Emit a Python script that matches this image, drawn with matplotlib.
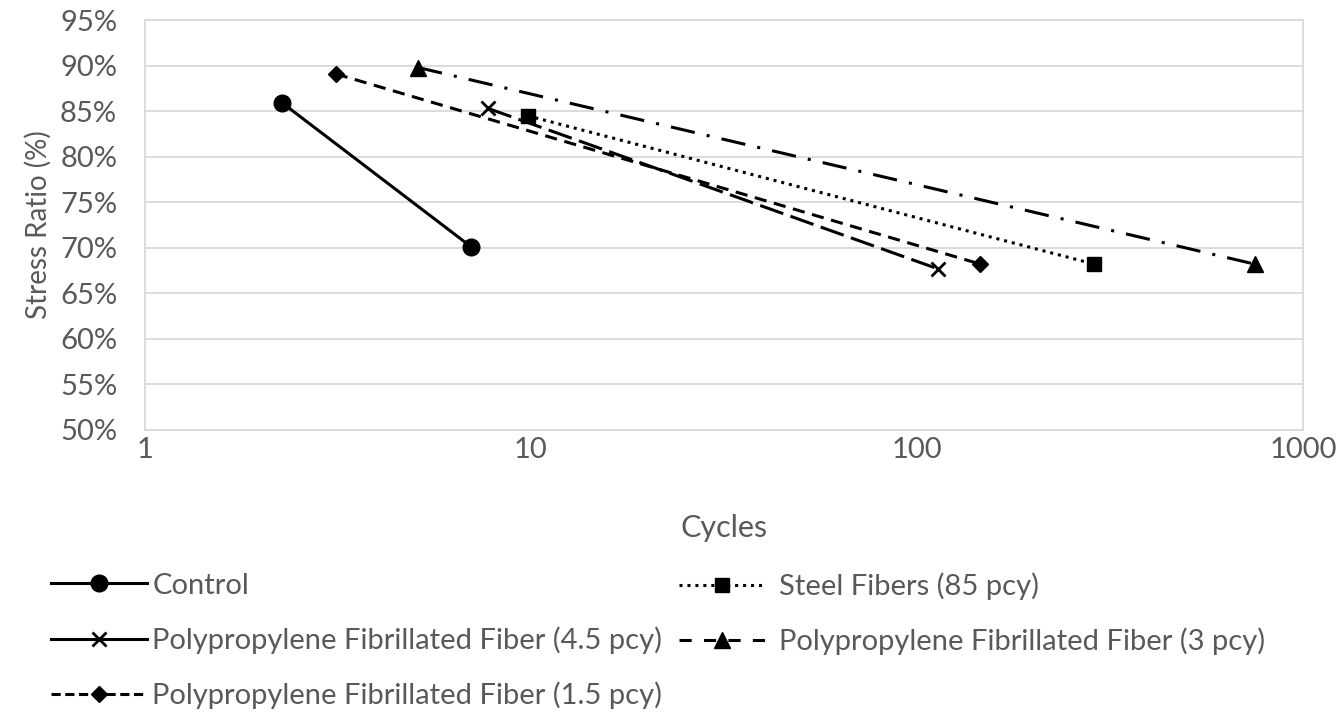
"""S-N style fatigue plot: stress ratio vs. cycles for fiber mixes."""

import matplotlib.pyplot as plt
from matplotlib.lines import Line2D
from matplotlib.ticker import FixedLocator, FuncFormatter, NullLocator

plt.rcParams["font.family"] = ["Lato", "DejaVu Sans"]

# series values (cycles, stress ratio %)
control_cycles = [2.27, 7.0]
control_ratio = [85.9, 70.1]
steel_cycles = [9.8, 288]
steel_ratio = [84.5, 68.2]
pp45_cycles = [7.75, 113]
pp45_ratio = [85.3, 67.7]
pp3_cycles = [5.1, 750]
pp3_ratio = [89.8, 68.2]
pp15_cycles = [3.12, 146]
pp15_ratio = [89.1, 68.2]

labels = [
    "Control",
    "Polypropylene Fibrillated Fiber (4.5 pcy)",
    "Polypropylene Fibrillated Fiber (1.5 pcy)",
    "Steel Fibers (85 pcy)",
    "Polypropylene Fibrillated Fiber (3 pcy)",
]
x_ticks = [1, 10, 100, 1000]
y_ticks = list(range(50, 96, 5))

TEXT = "#595959"
GRID = "#d9d9d9"

fig = plt.figure(figsize=(13.42, 7.2), dpi=100)
ax = fig.add_axes([0.108, 0.403, 0.863, 0.569])

lw = 2.2
ax.plot(control_cycles, control_ratio, color="black", lw=lw, ls="-",
        marker="o", ms=12, zorder=3)
ax.plot(steel_cycles, steel_ratio, color="black", lw=lw, ls=(0, (1, 1.6)),
        marker="s", ms=10.5, zorder=3)
ax.plot(pp45_cycles, pp45_ratio, color="black", lw=lw, ls=(0, (8, 2.5)),
        marker="x", ms=10, mew=2, zorder=3)
ax.plot(pp3_cycles, pp3_ratio, color="black", lw=lw, ls=(0, (8, 4, 1, 4)),
        marker="^", ms=11, zorder=3)
ax.plot(pp15_cycles, pp15_ratio, color="black", lw=lw, ls=(0, (4, 2.5)),
        marker="D", ms=8.5, zorder=3)

ax.set_xscale("log")
ax.set_xlim(1, 1000)
ax.set_ylim(50, 95)
ax.xaxis.set_major_locator(FixedLocator(x_ticks))
ax.xaxis.set_minor_locator(NullLocator())
ax.xaxis.set_major_formatter(FuncFormatter(lambda v, p: f"{v:g}"))
ax.set_yticks(y_ticks)
ax.yaxis.set_major_formatter(FuncFormatter(lambda v, p: f"{v:.0f}%"))

ax.grid(axis="y", color=GRID, lw=1.3)
ax.set_axisbelow(True)
for s in ax.spines.values():
    s.set_color(GRID)
    s.set_linewidth(1.3)
ax.tick_params(length=0, labelsize=21, colors=TEXT)
ax.tick_params(axis="y", pad=20)
ax.tick_params(axis="x", pad=5)

ax.set_xlabel("Cycles", fontsize=22, color=TEXT, labelpad=37)
ax.set_ylabel("Stress Ratio (%)", fontsize=20, color=TEXT, labelpad=6)

h_control = Line2D([], [], color="black", lw=lw, ls="-", marker="o", ms=12)
h_pp45 = Line2D([], [], color="black", lw=lw, ls="-", marker="x", ms=10, mew=2)
h_pp15 = Line2D([], [], color="black", lw=lw, ls=(0, (3, 1.5)), marker="D", ms=8.5)
h_steel = Line2D([], [], color="black", lw=lw, ls=(0, (1, 1.6)), marker="s", ms=10.5)
h_pp3 = Line2D([], [], color="black", lw=lw, ls=(0, (4, 4)), marker="^", ms=11)

leg_kw = dict(loc="upper left", frameon=False, fontsize=21, labelspacing=0.95,
              borderaxespad=0)
leg1 = fig.legend([h_control, h_pp45, h_pp15], labels[:3],
                  bbox_to_anchor=(0.0294, 0.221), handlelength=3.3,
                  handletextpad=0.17, **leg_kw)
leg2 = fig.legend([h_steel, h_pp3], labels[3:],
                  bbox_to_anchor=(0.497, 0.221), handlelength=3.0,
                  handletextpad=0.45, **leg_kw)
for leg in (leg1, leg2):
    for t in leg.get_texts():
        t.set_color(TEXT)

fig.savefig("out.png", dpi=100)
